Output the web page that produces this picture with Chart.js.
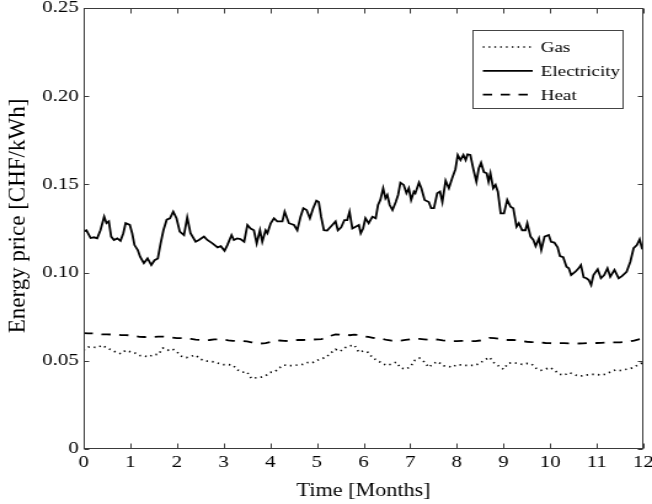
<!DOCTYPE html>
<html>
<head>
<meta charset="utf-8">
<script src="https://cdn.jsdelivr.net/npm/chart.js@4.4.0/dist/chart.umd.min.js"></script>
<style>
  html, body { margin: 0; padding: 0; background: #fff; overflow: hidden; }
  /* the figure is drawn narrow and widened, like the exported plot */
  #wrap { width: 530px; height: 504px; transform: scaleX(1.2302); transform-origin: 0 0; }
</style>
</head>
<body>
<div id="wrap"><canvas id="priceChart" width="530" height="504"></canvas></div>
<script>
// gas and heat prices in CHF/kWh, one sample every 0.1 month
var gas = [
  0.0560, 0.0578, 0.0577, 0.0576, 0.0588, 0.0572, 0.0561, 0.0548, 0.0540, 0.0559,
  0.0551, 0.0544, 0.0530, 0.0527, 0.0522, 0.0537, 0.0535, 0.0572, 0.0560, 0.0568,
  0.0550, 0.0526, 0.0518, 0.0526, 0.0532, 0.0510, 0.0499, 0.0497, 0.0493, 0.0485,
  0.0478, 0.0479, 0.0475, 0.0448, 0.0435, 0.0437, 0.0399, 0.0404, 0.0407, 0.0415,
  0.0434, 0.0438, 0.0461, 0.0476, 0.0472, 0.0473, 0.0477, 0.0480, 0.0490, 0.0488,
  0.0502, 0.0512, 0.0520, 0.0545, 0.0565, 0.0554, 0.0574, 0.0584, 0.0590, 0.0548,
  0.0556, 0.0547, 0.0515, 0.0502, 0.0485, 0.0474, 0.0482, 0.0492, 0.0459, 0.0453,
  0.0465, 0.0503, 0.0515, 0.0494, 0.0463, 0.0485, 0.0495, 0.0472, 0.0470, 0.0463,
  0.0478, 0.0477, 0.0474, 0.0474, 0.0474, 0.0488, 0.0505, 0.0520, 0.0488, 0.0470,
  0.0452, 0.0486, 0.0489, 0.0486, 0.0480, 0.0485, 0.0482, 0.0458, 0.0446, 0.0453,
  0.0462, 0.0445, 0.0424, 0.0418, 0.0433, 0.0424, 0.0413, 0.0415, 0.0420, 0.0423,
  0.0423, 0.0419, 0.0425, 0.0438, 0.0448, 0.0445, 0.0450, 0.0455, 0.0463, 0.0480, 0.0490
];
var heat = [
  0.0657, 0.0656, 0.0655, 0.0652, 0.0650, 0.0650, 0.0649, 0.0648, 0.0646, 0.0646,
  0.0644, 0.0640, 0.0636, 0.0635, 0.0634, 0.0635, 0.0637, 0.0637, 0.0635, 0.0632,
  0.0629, 0.0628, 0.0627, 0.0624, 0.0620, 0.0618, 0.0616, 0.0618, 0.0621, 0.0622,
  0.0620, 0.0616, 0.0613, 0.0612, 0.0612, 0.0610, 0.0605, 0.0600, 0.0598, 0.0600,
  0.0606, 0.0612, 0.0615, 0.0613, 0.0612, 0.0615, 0.0618, 0.0618, 0.0619, 0.0620,
  0.0622, 0.0623, 0.0630, 0.0642, 0.0650, 0.0648, 0.0650, 0.0645, 0.0648, 0.0646,
  0.0640, 0.0635, 0.0630, 0.0628, 0.0625, 0.0618, 0.0614, 0.0612, 0.0614, 0.0618,
  0.0622, 0.0624, 0.0624, 0.0622, 0.0620, 0.0622, 0.0620, 0.0616, 0.0613, 0.0612,
  0.0612, 0.0613, 0.0613, 0.0612, 0.0612, 0.0615, 0.0622, 0.0630, 0.0628, 0.0625,
  0.0620, 0.0618, 0.0618, 0.0616, 0.0612, 0.0608, 0.0606, 0.0606, 0.0604, 0.0601,
  0.0600, 0.0598, 0.0600, 0.0600, 0.0599, 0.0600, 0.0598, 0.0599, 0.0600, 0.0600,
  0.0601, 0.0602, 0.0604, 0.0605, 0.0604, 0.0605, 0.0606, 0.0610, 0.0615, 0.0622, 0.0624
];
var months = gas.map(function (_, i) { return i / 10; });

// electricity is sampled more densely (time in months, price in CHF/kWh)
var elecMonths = [
  0.00, 0.06, 0.15, 0.22, 0.29, 0.36, 0.44, 0.49, 0.54, 0.59, 0.65, 0.72, 0.79, 0.85, 0.90, 0.99,
  1.04, 1.09, 1.16, 1.21, 1.29, 1.37, 1.45, 1.52, 1.59, 1.65, 1.71, 1.78, 1.85, 1.92, 1.99,
  2.06, 2.15, 2.22, 2.29, 2.40, 2.47, 2.58, 2.65, 2.76, 2.87, 2.94,
  3.02, 3.08, 3.17, 3.22, 3.29, 3.36, 3.44, 3.51, 3.58, 3.65, 3.71, 3.78, 3.83, 3.90, 3.94,
  4.01, 4.08, 4.15, 4.26, 4.31, 4.40, 4.51, 4.58, 4.65, 4.71, 4.78, 4.85, 4.92, 4.99,
  5.04, 5.09, 5.15, 5.22, 5.33, 5.40, 5.45, 5.52, 5.59, 5.65, 5.70, 5.76, 5.83, 5.90, 5.94, 5.99,
  6.04, 6.11, 6.19, 6.26, 6.31, 6.36, 6.42, 6.47, 6.51, 6.56, 6.62, 6.69, 6.74, 6.79, 6.86, 6.92, 6.97,
  7.02, 7.08, 7.11, 7.19, 7.24, 7.31, 7.40, 7.45, 7.51, 7.58, 7.64, 7.69, 7.76, 7.83, 7.90, 7.97,
  8.02, 8.08, 8.14, 8.19, 8.23, 8.29, 8.36, 8.42, 8.47, 8.52, 8.58, 8.64, 8.68, 8.72, 8.78, 8.83, 8.88, 8.94,
  9.01, 9.08, 9.15, 9.21, 9.28, 9.33, 9.40, 9.47, 9.51, 9.58, 9.64, 9.69, 9.76, 9.81, 9.88, 9.97,
  10.02, 10.09, 10.16, 10.21, 10.28, 10.35, 10.40, 10.45, 10.54, 10.61, 10.66, 10.72, 10.78, 10.83, 10.88, 10.93,
  11.02, 11.09, 11.16, 11.23, 11.29, 11.38, 11.47, 11.54, 11.64, 11.72, 11.79, 11.86, 11.92, 11.97, 12.00
];
var electricity = [
  0.1232, 0.1240, 0.1196, 0.1200, 0.1194, 0.1240, 0.1317, 0.1280, 0.1290, 0.1204, 0.1185, 0.1194, 0.1180, 0.1223, 0.1280, 0.1270,
  0.1223, 0.1156, 0.1128, 0.1090, 0.1053, 0.1080, 0.1043, 0.1070, 0.1080, 0.1166, 0.1240, 0.1300, 0.1308, 0.1345, 0.1308,
  0.1232, 0.1213, 0.1313, 0.1223, 0.1175, 0.1185, 0.1204, 0.1185, 0.1166, 0.1143, 0.1150,
  0.1124, 0.1156, 0.1213, 0.1185, 0.1194, 0.1190, 0.1175, 0.1270, 0.1250, 0.1240, 0.1166, 0.1240, 0.1175, 0.1240, 0.1223,
  0.1280, 0.1308, 0.1290, 0.1290, 0.1345, 0.1280, 0.1270, 0.1240, 0.1317, 0.1365, 0.1355, 0.1308, 0.1365, 0.1408,
  0.1400, 0.1317, 0.1240, 0.1238, 0.1270, 0.1290, 0.1240, 0.1257, 0.1298, 0.1298, 0.1345, 0.1250, 0.1260, 0.1270, 0.1223, 0.1250,
  0.1308, 0.1280, 0.1317, 0.1308, 0.1383, 0.1412, 0.1478, 0.1421, 0.1440, 0.1383, 0.1355, 0.1400, 0.1440, 0.1510, 0.1497, 0.1450, 0.1478,
  0.1412, 0.1459, 0.1450, 0.1510, 0.1478, 0.1412, 0.1400, 0.1365, 0.1365, 0.1450, 0.1459, 0.1400, 0.1521, 0.1478, 0.1535, 0.1586,
  0.1667, 0.1638, 0.1667, 0.1638, 0.1670, 0.1667, 0.1580, 0.1515, 0.1590, 0.1623, 0.1570, 0.1563, 0.1515, 0.1563, 0.1478, 0.1497, 0.1459, 0.1336,
  0.1336, 0.1412, 0.1374, 0.1365, 0.1260, 0.1280, 0.1240, 0.1240, 0.1280, 0.1204, 0.1185, 0.1150, 0.1194, 0.1128, 0.1204, 0.1213,
  0.1175, 0.1170, 0.1143, 0.1094, 0.1087, 0.1033, 0.1024, 0.0986, 0.1005, 0.1024, 0.1043, 0.0973, 0.0968, 0.0958, 0.0930, 0.0986,
  0.1019, 0.0968, 0.0986, 0.1024, 0.0977, 0.1015, 0.0968, 0.0980, 0.1005, 0.1062, 0.1138, 0.1156, 0.1189, 0.1138, 0.1130
];

var xTicks = [0, 1, 2, 3, 4, 5, 6, 7, 8, 9, 10, 11, 12];
var yTicks = [0, 0.05, 0.10, 0.15, 0.20, 0.25];
var yTickLabels = ['0', '0.05', '0.10', '0.15', '0.20', '0.25'];

var STRETCH = 652 / 530;
var serif = "'Liberation Serif', 'Times New Roman', serif";
var axisGrey = '#3a3a3a';

function pairs(xs, values) {
  return values.map(function (v, i) { return { x: xs[i], y: v }; });
}

// box, inward ticks on all four sides, legend and the y title
var frame = {
  id: 'frame',
  afterDatasetsDraw: function (chart) {
    var a = chart.chartArea, ctx = chart.ctx;
    var xs = chart.scales.x, ys = chart.scales.y;
    var L = Math.round(a.left) + 0.5, R = Math.round(a.right) - 0.5;
    var T = Math.round(a.top) + 0.5, B = Math.round(a.bottom) - 0.5;

    ctx.save();
    ctx.strokeStyle = axisGrey;
    ctx.lineWidth = 1;
    ctx.strokeRect(L, T, R - L, B - T);
    ctx.beginPath();
    xTicks.forEach(function (t) {
      var px = Math.round(xs.getPixelForValue(t)) + 0.5;
      ctx.moveTo(px, B); ctx.lineTo(px, B - 5);
      ctx.moveTo(px, T); ctx.lineTo(px, T + 5);
    });
    yTicks.forEach(function (t) {
      var py = Math.round(ys.getPixelForValue(t)) + 0.5;
      ctx.moveTo(L, py); ctx.lineTo(L + 4, py);
      ctx.moveTo(R, py); ctx.lineTo(R - 4, py);
    });
    ctx.stroke();

    // legend box in the upper right corner
    var bx = Math.round(a.right) - 138.5, by = Math.round(a.top) + 22.5;
    ctx.fillStyle = '#fff';
    ctx.fillRect(bx, by, 122, 78);
    ctx.strokeStyle = '#444';
    ctx.strokeRect(bx, by, 122, 78);
    ctx.font = '15.5px ' + serif;
    ctx.textBaseline = 'middle';
    ctx.textAlign = 'left';
    chart.data.datasets.forEach(function (ds, i) {
      var ry = by + 16.5 + i * 23.8;
      ctx.save();
      ctx.strokeStyle = ds.borderColor;
      ctx.lineWidth = ds.borderWidth;
      ctx.setLineDash(ds.borderDash || []);
      ctx.beginPath();
      ctx.moveTo(bx + 8, ry);
      ctx.lineTo(bx + 48.5, ry);
      ctx.stroke();
      ctx.restore();
      ctx.fillStyle = '#000';
      ctx.fillText(ds.label, bx + 55, ry + 1);
    });

    // vertical axis title, kept at its natural width
    ctx.translate(14.6, 216);
    ctx.scale(1 / STRETCH, 1);
    ctx.rotate(-Math.PI / 2);
    ctx.font = '23px ' + serif;
    ctx.textAlign = 'center';
    ctx.fillStyle = '#000';
    ctx.fillText('Energy price [CHF/kWh]', 0, 0);
    ctx.restore();
  }
};

new Chart(document.getElementById('priceChart'), {
  type: 'line',
  data: {
    datasets: [{
      label: 'Gas',
      data: pairs(months, gas),
      borderColor: '#000',
      borderWidth: 1.7,
      borderDash: [1.3, 3.4],
      pointRadius: 0
    }, {
      label: 'Electricity',
      data: pairs(elecMonths, electricity),
      borderColor: '#000',
      borderWidth: 1.8,
      pointRadius: 0
    }, {
      label: 'Heat',
      data: pairs(months, heat),
      borderColor: '#000',
      borderWidth: 1.8,
      borderDash: [7.5, 7],
      pointRadius: 0
    }]
  },
  options: {
    responsive: false,
    animation: false,
    layout: { padding: { left: 0, right: 7, top: 8, bottom: 0 } },
    plugins: { legend: { display: false }, tooltip: { enabled: false } },
    scales: {
      x: {
        type: 'linear',
        min: 0,
        max: 12,
        afterBuildTicks: function (s) { s.ticks = xTicks.map(function (v) { return { value: v }; }); },
        afterFit: function (s) { s.height = 55; s.paddingLeft = 0; s.paddingRight = 0; },
        grid: { display: false, drawTicks: false },
        border: { display: false },
        ticks: { font: { family: serif, size: 17 }, color: '#000', padding: 3, maxRotation: 0, autoSkip: false },
        title: { display: true, text: 'Time [Months]', color: '#000', font: { family: serif, size: 18 }, padding: { top: 0, bottom: 2 } }
      },
      y: {
        min: 0,
        max: 0.25,
        afterBuildTicks: function (s) { s.ticks = yTicks.map(function (v) { return { value: v }; }); },
        afterFit: function (s) { s.width = 68; s.paddingTop = 0; s.paddingBottom = 0; },
        grid: { display: false, drawTicks: false },
        border: { display: false },
        ticks: {
          font: { family: serif, size: 17 },
          color: '#000',
          padding: 4,
          callback: function (v, i) { return yTickLabels[i]; }
        }
      }
    }
  },
  plugins: [frame]
});
</script>
</body>
</html>
